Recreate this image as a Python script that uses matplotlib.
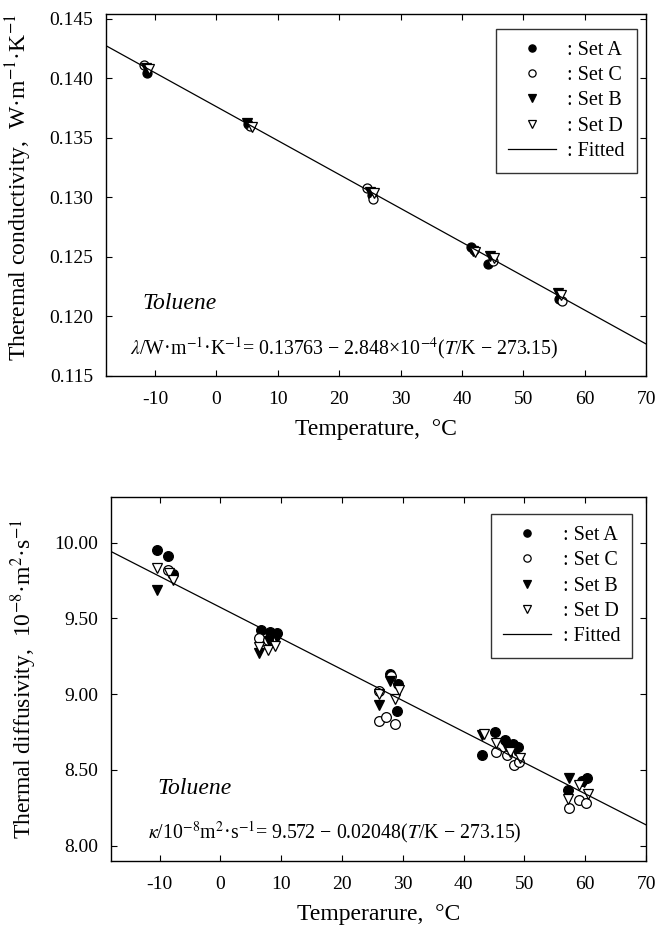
import numpy as np
import matplotlib
matplotlib.use("Agg")
from matplotlib import pyplot as plt

plt.rcParams['font.family'] = ['Liberation Serif', 'DejaVu Serif']
plt.rcParams['mathtext.fontset'] = 'stix'
plt.rcParams['axes.unicode_minus'] = False

# --- thermal conductivity (top panel) ---
lam_t_a = [-11.3, 5.2, 25.3, 41.5, 44.3, 55.8]
lam_a = [0.1405, 0.1362, 0.1302, 0.1258, 0.1244, 0.1215]
lam_t_c = [-11.8, 5.5, 24.6, 25.5, 42.0, 45.0, 56.3]
lam_c = [0.1411, 0.1360, 0.1308, 0.1299, 0.1256, 0.1247, 0.1213]
lam_t_b = [-11.5, 5.0, 25.0, 41.8, 44.6, 55.6]
lam_b = [0.1409, 0.1363, 0.1305, 0.1255, 0.1251, 0.1220]
lam_t_d = [-11.0, 5.8, 25.6, 42.2, 45.2, 56.1]
lam_d = [0.1408, 0.1359, 0.1304, 0.1254, 0.1249, 0.1218]
lam_fit = (0.13763, -2.848e-4)

# --- thermal diffusivity (bottom panel) ---
kap_t_a = [-10.4, -8.6, -7.8, 6.6, 8.2, 9.3, 27.9, 29.2, 29.0, 43.0, 45.1, 46.8, 48.2, 49.0, 57.1, 59.4, 60.3]
kap_a = [9.95, 9.91, 9.79, 9.42, 9.41, 9.40, 9.13, 9.07, 8.89, 8.60, 8.75, 8.70, 8.67, 8.65, 8.37, 8.43, 8.45]
kap_t_c = [-8.7, 6.3, 7.8, 26.0, 26.1, 27.3, 28.0, 28.7, 45.4, 47.2, 48.3, 49.1, 57.3, 58.9, 60.2]
kap_c = [9.82, 9.37, 9.36, 9.02, 8.82, 8.85, 9.12, 8.80, 8.62, 8.60, 8.53, 8.55, 8.25, 8.30, 8.28]
kap_t_b = [-10.4, 6.3, 8.0, 9.3, 26.1, 27.9, 43.0, 47.0, 48.5, 57.3, 59.8]
kap_b = [9.69, 9.27, 9.35, 9.37, 8.93, 9.09, 8.73, 8.66, 8.63, 8.45, 8.42]
kap_t_d = [-10.5, -8.4, -7.8, 6.4, 7.9, 9.0, 26.0, 28.7, 29.3, 43.3, 45.3, 47.6, 49.2, 57.2, 59.0, 60.4]
kap_d = [9.83, 9.80, 9.75, 9.31, 9.29, 9.32, 9.00, 8.97, 9.03, 8.74, 8.68, 8.62, 8.58, 8.31, 8.40, 8.34]
kap_fit = (9.572, -0.02048)

x_ticks = [-10, 0, 10, 20, 30, 40, 50, 60, 70]
lam_ticks = [0.115, 0.120, 0.125, 0.130, 0.135, 0.140, 0.145]
kap_ticks = [8.00, 8.50, 9.00, 9.50, 10.00]

FS = 14
LAB = 17

fig = plt.figure(figsize=(6.58, 9.34), dpi=100)
ax1 = fig.add_axes([106 / 658, 1 - 376 / 934, 540 / 658, 362 / 934])
ax2 = fig.add_axes([111 / 658, 1 - 861 / 934, 535 / 658, 364 / 934])


def draw_sets(ax, sets, fit, ms):
    styles = [
        dict(marker='o', mfc='black', label=': Set A'),
        dict(marker='o', mfc='white', label=': Set C'),
        dict(marker='v', mfc='black', label=': Set B'),
        dict(marker='v', mfc='white', label=': Set D'),
    ]
    for (t, v), st in zip(sets, styles):
        ax.plot(t, v, ls='none', mec='black', ms=ms, mew=0.9, color='black', **st)
    xx = np.array([-18, 70])
    ax.plot(xx, fit[0] + fit[1] * xx, color='black', lw=0.9, label=': Fitted')


def style_axes(ax, anchor, mscale):
    ax.set_xlim(-18, 70)
    ax.set_xticks(x_ticks)
    ax.tick_params(direction='in', length=4, width=0.8, top=True, right=True,
                   labelsize=FS)
    ax.tick_params(axis='x', pad=11)
    ax.tick_params(axis='y', pad=9)
    for sp in ax.spines.values():
        sp.set_linewidth(1.0)
    leg = ax.legend(loc='upper right', bbox_to_anchor=anchor, frameon=True, fancybox=False,
                    edgecolor='black', fontsize=14.5, handlelength=2.4, handletextpad=0.55,
                    labelspacing=0.3, borderpad=0.6, markerscale=mscale, borderaxespad=0)
    leg.get_frame().set_linewidth(1.0)


draw_sets(ax1, [(lam_t_a, lam_a), (lam_t_c, lam_c), (lam_t_b, lam_b), (lam_t_d, lam_d)],
          lam_fit, 6.5)
style_axes(ax1, (0.983, 0.9586), 0.8)
ax1.set_ylim(0.115, 0.14542)
ax1.set_yticks(lam_ticks)
ax1.set_yticklabels([f"{v:.3f}" for v in lam_ticks])
ax1.set_xlabel("Temperature,  °C", fontsize=LAB, labelpad=8)
ax1.set_ylabel("Theremal conductivity,  W·m$^{-1}$·K$^{-1}$", fontsize=LAB)
ax1.yaxis.set_label_coords(-0.133, 0.52)
ax1.text(0.067, 0.2, "Toluene", transform=ax1.transAxes, fontsize=17, style='italic',
         va='center')
ax1.text(0.045, 0.077,
         r"$\lambda$/W·m$^{-1}$·K$^{-1}$= 0.13763 − 2.848×10$^{-4}$($T$/K − 273.15)",
         transform=ax1.transAxes, fontsize=14.3, va='center')

draw_sets(ax2, [(kap_t_a, kap_a), (kap_t_c, kap_c), (kap_t_b, kap_b), (kap_t_d, kap_d)],
          kap_fit, 7)
style_axes(ax2, (0.974, 0.953), 0.75)
ax2.set_ylim(7.9, 10.3)
ax2.set_yticks(kap_ticks)
ax2.set_yticklabels([f"{v:.2f}" for v in kap_ticks])
ax2.set_xlabel("Temperarure,  °C", fontsize=LAB, labelpad=8)
ax2.set_ylabel("Thermal diffusivity,  10$^{-8}$·m$^{2}$·s$^{-1}$", fontsize=LAB)
ax2.yaxis.set_label_coords(-0.135, 0.5)
ax2.text(0.086, 0.2, "Toluene", transform=ax2.transAxes, fontsize=17, style='italic',
         va='center')
ax2.text(0.069, 0.08,
         r"$\kappa$/10$^{-8}$m$^{2}$·s$^{-1}$= 9.572 − 0.02048($T$/K − 273.15)",
         transform=ax2.transAxes, fontsize=14.3, va='center')

fig.savefig("out.png", dpi=100)
